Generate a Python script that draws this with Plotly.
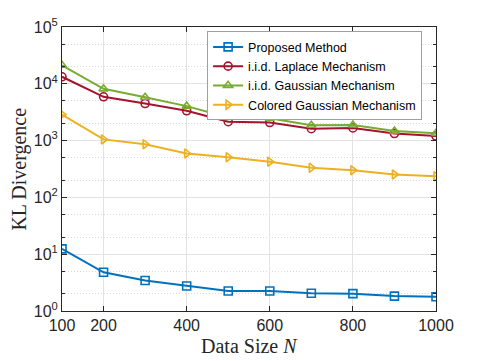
import plotly.graph_objects as go

# data size N
n_values = [100, 200, 300, 400, 500, 600, 700, 800, 900, 1000]

# KL divergence per method
proposed = [12.4, 4.8, 3.45, 2.75, 2.25, 2.25, 2.05, 2.02, 1.83, 1.78]
laplace = [13300, 5900, 4500, 3350, 2150, 2080, 1620, 1670, 1330, 1200]
gaussian = [21200, 8150, 5800, 4050, 2550, 2480, 1860, 1880, 1470, 1350]
colored = [2880, 1050, 865, 595, 510, 425, 332, 300, 253, 236]

x_ticks = [100, 200, 400, 600, 800, 1000]
y_ticks = [1, 10, 100, 1000, 10000, 100000]
y_labels = ["10<sup>0</sup>", "10<sup>1</sup>", "10<sup>2</sup>",
            "10<sup>3</sup>", "10<sup>4</sup>", "10<sup>5</sup>"]

series = [
    ("Proposed Method", proposed, "#0072BD", "square-open"),
    ("i.i.d. Laplace Mechanism", laplace, "#A2142F", "circle-open"),
    ("i.i.d. Gaussian Mechanism", gaussian, "#77AC30", "triangle-up-open"),
    ("Colored Gaussian Mechanism", colored, "#EDB120", "triangle-right-open"),
]

fig = go.Figure()
for name, vals, color, symbol in series:
    fig.add_trace(go.Scatter(
        x=n_values, y=vals, name=name, mode="lines+markers",
        line=dict(color=color, width=2),
        marker=dict(symbol=symbol, size=8, color=color, line=dict(width=1.6, color=color)),
    ))

axis_col = "#262626"
label_font = dict(family="Liberation Serif, serif", size=20, color=axis_col)
# page body has an 8px margin, so the figure is 8px smaller than the window
fig.update_layout(
    width=474, height=353,
    margin=dict(l=54, r=46, t=19, b=50, autoexpand=False),
    paper_bgcolor="white", plot_bgcolor="white",
    font=dict(family="Liberation Sans, Arial, sans-serif", size=16, color=axis_col),
    legend=dict(
        x=0.388, y=0.985, xanchor="left", yanchor="top",
        bgcolor="white", bordercolor="#a0a0a0", borderwidth=1,
        font=dict(size=12.5, color="#000000"),
        tracegroupgap=0, itemwidth=30,
    ),
    showlegend=True,
    annotations=[
        dict(text="Data Size <i>N</i>", xref="paper", yref="paper", x=0.5, y=-0.078,
             xanchor="center", yanchor="top", showarrow=False, font=label_font),
        dict(text="KL Divergence", xref="paper", yref="paper", x=-0.116, y=0.5,
             xanchor="center", yanchor="middle", textangle=-90, showarrow=False,
             borderpad=0, font=label_font),
    ],
)
fig.update_xaxes(
    range=[100, 1000], tickvals=x_ticks, automargin=False,
    showline=True, linecolor=axis_col, linewidth=1, mirror="ticks",
    ticks="inside", ticklen=5, tickcolor=axis_col,
    showgrid=True, gridcolor="#e3e3e3", gridwidth=1,
    zeroline=False,
)
fig.update_yaxes(
    type="log", range=[0, 5], tickvals=y_ticks, ticktext=y_labels, automargin=False,
    showline=True, linecolor=axis_col, linewidth=1, mirror="ticks",
    ticks="inside", ticklen=5, tickcolor=axis_col,
    showgrid=True, gridcolor="#e3e3e3", gridwidth=1,
    minor=dict(ticks="inside", ticklen=3, tickcolor=axis_col,
               showgrid=True, gridcolor="#d8d8d8", griddash="1px,2px"),
    zeroline=False,
)

fig.write_html("out.html")
